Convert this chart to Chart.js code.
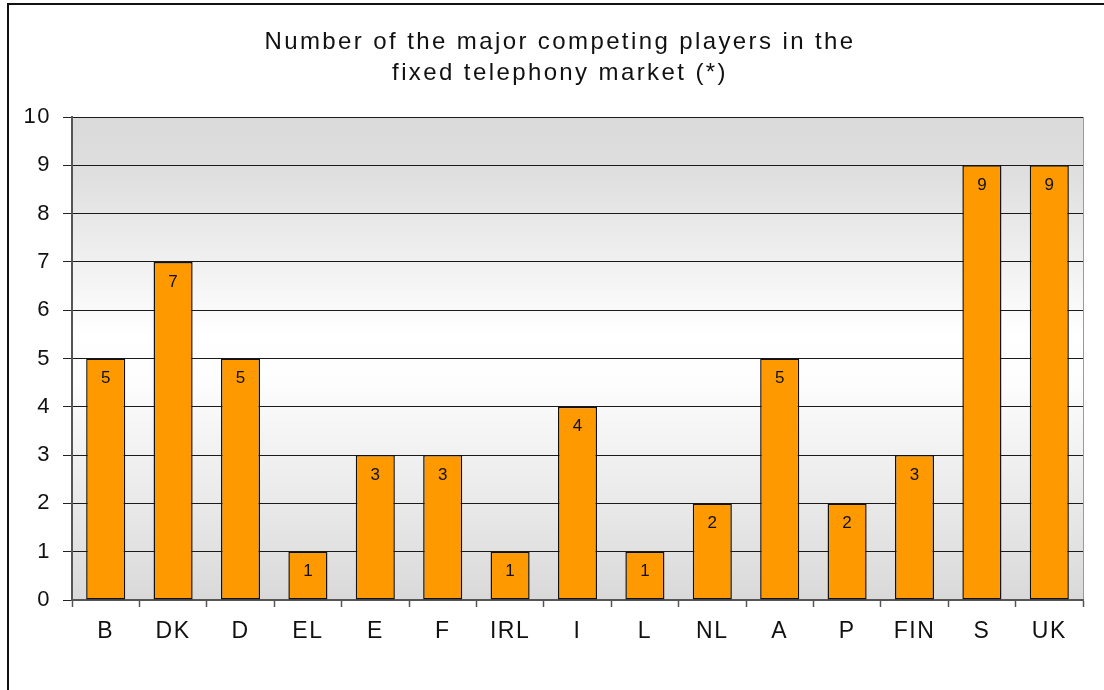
<!DOCTYPE html>
<html lang="en">
<head>
    <meta charset="UTF-8">
    <title>Fixed telephony market - competing players</title>
    <script src="https://cdn.jsdelivr.net/npm/chart.js"></script>
    <style>
        * { margin: 0; padding: 0; box-sizing: border-box; }
        html, body { width: 1104px; height: 690px; overflow: hidden; background: #fff; }
        .wrap { position: relative; width: 1104px; height: 690px; }
    </style>
</head>
<body>
    <div class="wrap">
        <canvas id="playersChart" width="1104" height="690"></canvas>
    </div>

    <script>
        // Countries and number of major competing players
        const countries = ['B', 'DK', 'D', 'EL', 'E', 'F', 'IRL', 'I', 'L', 'NL', 'A', 'P', 'FIN', 'S', 'UK'];
        const players = [5, 7, 5, 1, 3, 3, 1, 4, 1, 2, 5, 2, 3, 9, 9];
        const yTicks = [0, 1, 2, 3, 4, 5, 6, 7, 8, 9, 10];
        const titleLines = ['Number of the major competing players in the', 'fixed telephony market (*)'];

        const FONT = "'Liberation Sans', Arial, sans-serif";

        // outer frame, title and gray/white gradient behind the plot
        const backdrop = {
            id: 'backdrop',
            beforeDraw(chart) {
                const { ctx, chartArea: a } = chart;
                ctx.save();
                ctx.strokeStyle = '#111';
                ctx.lineWidth = 2;
                ctx.strokeRect(8, 4, 1300, 900);

                ctx.fillStyle = '#111';
                ctx.font = '24px ' + FONT;
                ctx.letterSpacing = '2.4px';
                ctx.textAlign = 'center';
                ctx.textBaseline = 'middle';
                ctx.fillText(titleLines[0], 560, 42);
                ctx.fillText(titleLines[1], 560, 73);
                ctx.letterSpacing = '0px';

                const g = ctx.createLinearGradient(0, a.top, 0, a.bottom);
                g.addColorStop(0, '#dadada');
                g.addColorStop(0.12, '#dfdfdf');
                g.addColorStop(0.45, '#ffffff');
                g.addColorStop(0.55, '#fdfdfd');
                g.addColorStop(1, '#d9d9d9');
                ctx.fillStyle = g;
                ctx.fillRect(a.left, a.top, a.right - a.left, a.bottom - a.top);

                ctx.strokeStyle = '#9a9a9a';
                ctx.lineWidth = 1;
                ctx.beginPath();
                ctx.moveTo(a.right + 0.5, a.top);
                ctx.lineTo(a.right + 0.5, a.bottom);
                ctx.stroke();
                ctx.restore();
                // axis labels are set a little wider
                ctx.letterSpacing = '1.5px';
            },
            beforeDatasetsDraw(chart) {
                chart.ctx.letterSpacing = '0px';
            }
        };

        // value printed just inside the top of each bar
        const barValues = {
            id: 'barValues',
            afterDatasetsDraw(chart) {
                const { ctx } = chart;
                const meta = chart.getDatasetMeta(0);
                ctx.save();
                ctx.font = '17px ' + FONT;
                ctx.fillStyle = '#111';
                ctx.textAlign = 'center';
                ctx.textBaseline = 'middle';
                meta.data.forEach((bar, i) => {
                    ctx.fillText(String(players[i]), bar.x, bar.y + 20);
                });
                ctx.restore();
            }
        };

        new Chart(document.getElementById('playersChart'), {
            type: 'bar',
            data: {
                labels: countries,
                datasets: [{
                    data: players,
                    backgroundColor: '#ff9900',
                    borderColor: '#111',
                    borderWidth: 1.5,
                    borderSkipped: false,
                    barPercentage: 0.58,
                    categoryPercentage: 1
                }]
            },
            options: {
                responsive: false,
                animation: false,
                devicePixelRatio: 1,
                layout: { padding: { left: 0, right: 21, top: 117, bottom: 0 } },
                plugins: {
                    legend: { display: false },
                    tooltip: { enabled: false },
                    title: { display: false }
                },
                scales: {
                    x: {
                        grid: {
                            offset: true,
                            drawOnChartArea: false,
                            tickLength: 7,
                            tickColor: '#555',
                            tickWidth: 1.5
                        },
                        border: { color: '#555', width: 2 },
                        ticks: {
                            color: '#111',
                            font: { family: FONT, size: 23 },
                            padding: 11,
                            maxRotation: 0
                        },
                        afterFit(scale) { scale.height = 90; }
                    },
                    y: {
                        min: 0,
                        max: 10,
                        afterBuildTicks(scale) {
                            scale.ticks = yTicks.map(v => ({ value: v }));
                        },
                        grid: {
                            color: '#1a1a1a',
                            lineWidth: 1,
                            tickLength: 9,
                            tickColor: '#222'
                        },
                        border: { color: '#555', width: 2 },
                        ticks: {
                            color: '#111',
                            font: { family: FONT, size: 22 },
                            padding: 12
                        },
                        afterFit(scale) { scale.width = 72; }
                    }
                }
            },
            plugins: [backdrop, barValues]
        });
    </script>
</body>
</html>
